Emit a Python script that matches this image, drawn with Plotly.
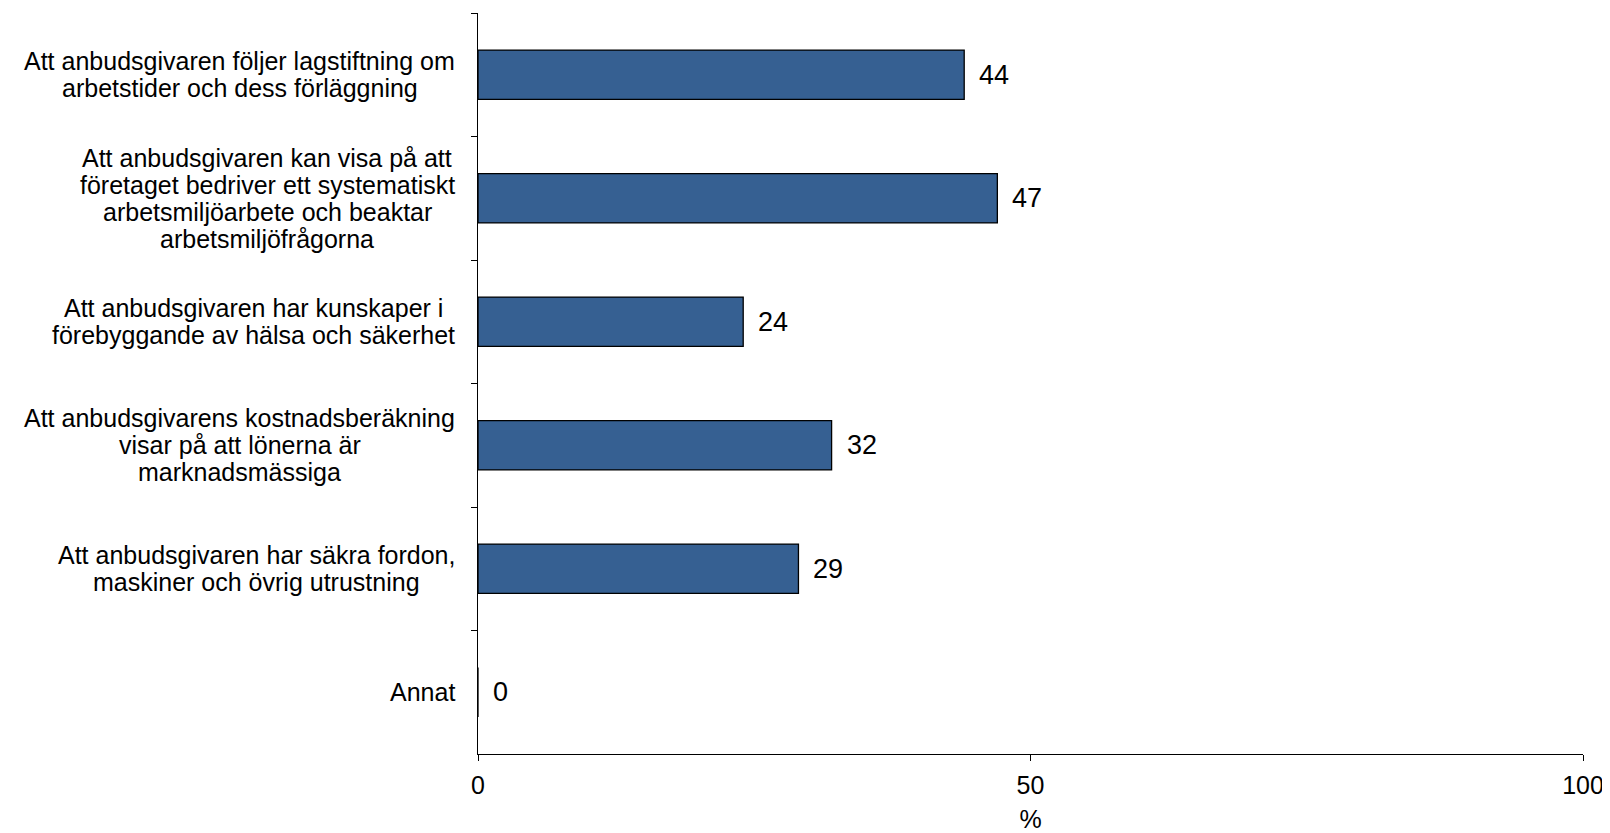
import plotly.graph_objects as go

# ---- data ----
categories = [
    "Att anbudsgivaren följer lagstiftning om arbetstider och dess förläggning",
    "Att anbudsgivaren kan visa på att företaget bedriver ett systematiskt arbetsmiljöarbete och beaktar arbetsmiljöfrågorna",
    "Att anbudsgivaren har kunskaper i förebyggande av hälsa och säkerhet",
    "Att anbudsgivarens kostnadsberäkning visar på att lönerna är marknadsmässiga",
    "Att anbudsgivaren har säkra fordon, maskiner och övrig utrustning",
    "Annat",
]
category_lines = [
    ["Att anbudsgivaren följer lagstiftning om", "arbetstider och dess förläggning"],
    ["Att anbudsgivaren kan visa på att", "företaget bedriver ett systematiskt",
     "arbetsmiljöarbete och beaktar", "arbetsmiljöfrågorna"],
    ["Att anbudsgivaren har kunskaper i", "förebyggande av hälsa och säkerhet"],
    ["Att anbudsgivarens kostnadsberäkning", "visar på att lönerna är", "marknadsmässiga"],
    ["Att anbudsgivaren har säkra fordon,", "maskiner och övrig utrustning"],
    ["Annat"],
]
values = [44, 47, 24, 32, 29, 0]
x_ticks = [0, 50, 100]
x_title = "%"

# ---- style ----
FONT = "Liberation Sans, Arial, sans-serif"
BAR_COLOR = "#366092"
LABEL_SIZE = 25
VALUE_SIZE = 27
TICK_SIZE = 25
LINE_SPACING = 27
LABEL_GAP = 23  # gap between label block right edge and the axis

# Arial / Liberation Sans advance widths (per 1000 em) for centring text blocks
_W = {c: 556 for c in "abdeghnopquåäö"}
_W.update({"c": 500, "f": 278, "i": 222, "j": 222, "k": 500, "l": 222, "m": 833,
           "r": 333, "s": 500, "t": 278, "v": 500, "w": 722, "x": 500, "y": 500,
           "z": 500, " ": 278, ",": 278, "A": 667})


def text_width(s, size):
    return sum(_W.get(ch, 556) for ch in s) * size / 1000.0


fig = go.Figure()
fig.add_trace(go.Bar(
    x=values,
    y=categories,
    orientation="h",
    marker=dict(color=BAR_COLOR, line=dict(color="black", width=1.3)),
    width=0.4,
    hoverinfo="skip",
))

annotations = []
for cat, lines, v in zip(categories, category_lines, values):
    block_w = max(text_width(s, LABEL_SIZE) for s in lines)
    n = len(lines)
    for i, s in enumerate(lines):
        annotations.append(dict(
            x=0, xref="paper", y=cat, yref="y",
            text=s, showarrow=False, xanchor="center", yanchor="middle",
            xshift=-LABEL_GAP - block_w / 2,
            yshift=((n - 1) / 2 - i) * LINE_SPACING,
            font=dict(family=FONT, size=LABEL_SIZE, color="black"),
        ))
    annotations.append(dict(
        x=v, xref="x", y=cat, yref="y",
        text=str(v), showarrow=False, xanchor="left", yanchor="middle",
        xshift=13,
        font=dict(family=FONT, size=VALUE_SIZE, color="black"),
    ))

fig.update_layout(
    width=1602, height=825,
    margin=dict(l=470, r=27, t=5, b=78.5, autoexpand=False),
    plot_bgcolor="white", paper_bgcolor="white",
    showlegend=False,
    annotations=annotations,
    font=dict(family=FONT, size=TICK_SIZE, color="black"),
    xaxis=dict(
        range=[0, 100], tickvals=x_ticks, ticktext=[str(t) for t in x_ticks],
        ticks="outside", ticklen=6, tickwidth=1.3, tickcolor="black",
        showline=True, linecolor="black", linewidth=1.3,
        showgrid=False, zeroline=False, automargin=False,
        tickfont=dict(family=FONT, size=TICK_SIZE),
        ticklabelstandoff=3,
        title=dict(text=x_title, font=dict(family=FONT, size=TICK_SIZE), standoff=19),
    ),
    yaxis=dict(
        type="category",
        categoryorder="array", categoryarray=categories,
        range=[5.5, -0.5],
        showticklabels=False,
        tickson="boundaries",
        ticks="outside", ticklen=6, tickwidth=1.3, tickcolor="black",
        showline=True, linecolor="black", linewidth=1.3,
        showgrid=False, zeroline=False, automargin=False,
    ),
)

fig.write_html("out.html")
